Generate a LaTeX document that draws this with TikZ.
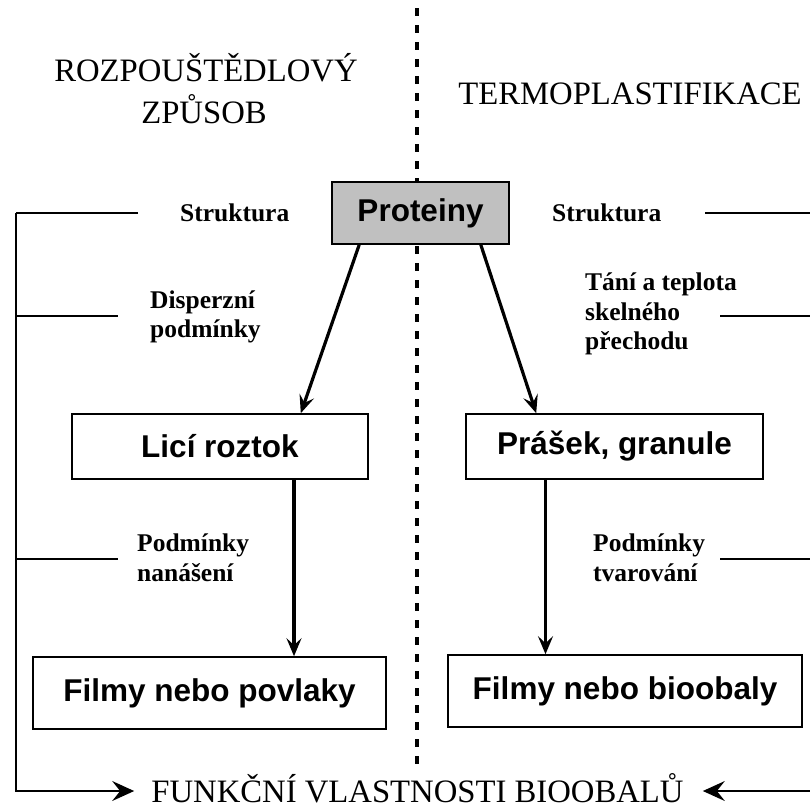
\documentclass[tikz,border=0pt]{standalone}
\usepackage{fontspec}
\setmainfont{Liberation Serif}
\setsansfont{Liberation Sans}
\usetikzlibrary{arrows.meta}
\definecolor{boxgray}{RGB}{192,192,192}

\begin{document}
\begin{tikzpicture}[x=1pt,y=-1pt,
	square/.style={rectangle, draw=black, line width=1.6pt, inner sep=0pt, align=center, font=\sffamily\bfseries\fontsize{31.5}{36}\selectfont},
	heading/.style={inner sep=0pt, font=\fontsize{32.7}{36}\selectfont},
	note/.style={inner sep=0pt, anchor=west, align=left, font=\bfseries\fontsize{25.5}{29.5}\selectfont},
	rail/.style={line width=1.3pt},
	flow/.style={line width=3.2pt, -{Stealth[length=18pt,width=15pt,inset=7pt]}},
	>={Stealth[length=22pt,width=20pt,inset=8pt]}]

	\useasboundingbox (0,0) rectangle (810,809);

	%Divider
	\draw[line width=3.5pt, dash pattern=on 8pt off 9pt] (417,8) -- (417,766);

	%Headings
	\node[heading, anchor=base]	(rozp1)	at (206,81)	{ROZPOUŠTĚDLOVÝ};
	\node[heading, anchor=base]	(rozp2)	at (204,123)	{ZPŮSOB};
	\node[heading, anchor=base]	(termo)	at (630,104)	{TERMOPLASTIFIKACE};
	\node[heading, text height=22pt, text depth=0pt]	(funkcni)	at (417.5,791)	{FUNKČNÍ VLASTNOSTI BIOOBALŮ};

	%Nodes
	\node[square, fill=boxgray, minimum width=177pt, minimum height=62pt]	(proteiny)	at (420.5,213)	{Proteiny};
	\node[square, minimum width=296pt, minimum height=65pt]	(lici)	at (220,446.5)	{Licí roztok};
	\node[square, minimum width=297pt, minimum height=65pt]	(prasek)	at (614.5,446.5)	{Prášek, granule};
	\node[square, minimum width=353pt, minimum height=72pt]	(povlaky)	at (209.5,693)	{Filmy nebo povlaky};
	\node[square, minimum width=354pt, minimum height=72pt]	(bioobaly)	at (625,691)	{Filmy nebo bioobaly};

	%Notes
	\node[note]	(strukL)	at (180,213)	{Struktura};
	\node[note]	(disp)	at (150,317)	{Disperzní\\podmínky};
	\node[note]	(nanas)	at (137,558)	{Podmínky\\nanášení};
	\node[note]	(strukR)	at (552,213)	{Struktura};
	\node[note]	(tani)	at (585,314)	{Tání a teplota\\skelného\\přechodu};
	\node[note]	(tvar)	at (593,558)	{Podmínky\\tvarování};

	%Lines
	\coordinate (railL) at (16,213);
	\coordinate (railR) at (810,213);
	\draw[rail] (138,213) -- (railL);
	\draw[rail] (railL |- 0,316) -- (118,316);
	\draw[rail] (railL |- 0,559) -- (118,559);
	\draw[rail, ->] (railL) |- ([xshift=-17pt]funkcni.west);
	\draw[rail] (705,213) -- (railR);
	\draw[rail] (720,316) -- (railR |- 0,316);
	\draw[rail] (720,559) -- (railR |- 0,559);
	\draw[rail, ->] (railR |- funkcni) -- ([xshift=19pt]funkcni.east);

	\draw[flow] ([xshift=28pt]proteiny.south west) -- ([xshift=-68pt]lici.north east);
	\draw[flow] ([xshift=-29pt]proteiny.south east) -- ([xshift=71pt]prasek.north west);
	\draw[flow] ([xshift=74pt]lici.south) -- ([xshift=74pt]lici.south |- povlaky.north);
	\draw[flow] ([xshift=-69pt]prasek.south) -- ([xshift=-69pt]prasek.south |- bioobaly.north);
\end{tikzpicture}
\end{document}
